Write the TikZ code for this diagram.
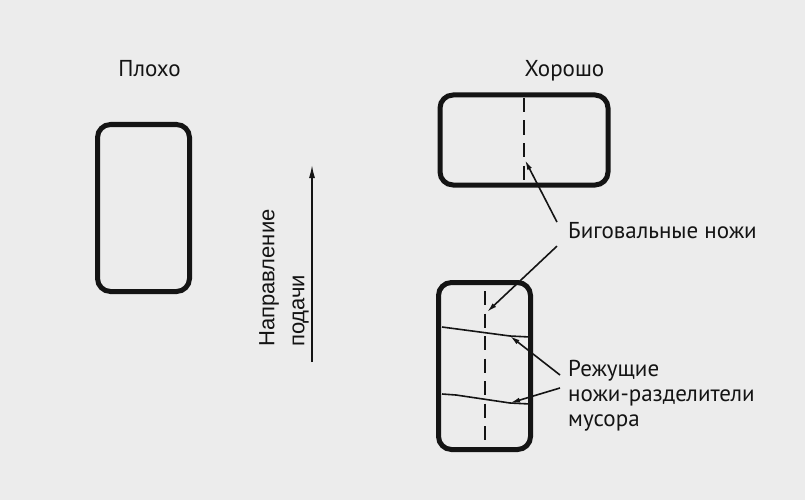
\documentclass[tikz,border=0pt]{standalone}
\usepackage{fontspec}
\setmainfont{PT Sans}
\newfontfamily\feedfont{Liberation Sans}
\usetikzlibrary{
    positioning,   % Relative positioning
    arrows.meta,   % Modern arrow tips
    calc           % Coordinate calculations
}
\definecolor{paper}{HTML}{ECECEC}
\definecolor{ink}{HTML}{141414}
\tikzset{
    card/.style={draw=ink, line width=5pt, rounded corners=13pt, inner sep=0pt},
    knife/.style={draw=ink, line width=2pt, dash pattern=on 14pt off 8.5pt},
    cutline/.style={draw=ink, line width=1.6pt},
    pointer/.style={draw=ink, line width=1.6pt, -{Latex[length=10pt,width=5pt]}},
    feed/.style={draw=ink, line width=1.4pt, -{Latex[length=13pt,width=6pt]}},
    caption/.style={font=\fontsize{23}{25}\selectfont, text=ink, inner sep=0pt}
}

\begin{document}
\begin{tikzpicture}[x=1pt,y=-1pt]
    \fill[paper] (0,0) rectangle (805,500);
    \useasboundingbox (0,0) rectangle (805,500);

    % blanks
    \node[card, minimum width=92pt, minimum height=167pt] (bad) at (143.5,208) {};
    \node[card, minimum width=168pt, minimum height=90pt] (goodtop) at (524,140) {};
    \node[card, minimum width=92pt, minimum height=167pt] (goodbot) at (484.5,366) {};

    % titles
    \node[caption, anchor=base] (badtitle) at (149.5,77) {Плохо};
    \node[caption, anchor=base] (goodtitle) at (564.5,77) {Хорошо};

    % creasing knives
    \draw[knife] ([yshift=-5.5pt]goodtop.north) -- ([yshift=5.5pt]goodtop.south);
    \draw[knife] ([xshift=0.5pt,yshift=-11pt]goodbot.north) -- ([xshift=0.5pt,yshift=12pt]goodbot.south);
    \coordinate (creasetop) at (525,160);
    \coordinate (creasebot) at (487,312);

    % trim cutters
    \coordinate (cuta) at (510,336);
    \coordinate (cutb) at (510,403);
    \draw[cutline] (442,327) -- (cuta) -- (530,337);
    \draw[cutline] (442,394) -- (456,395) -- (cutb) -- (530,404);

    % labels
    \node[caption, anchor=base west] (creaser) at (568,238) {Биговальные ножи};
    \node[caption, anchor=north west, align=left] (cutter) at (568,360)
        {Режущие\\ножи-разделители\\мусора};
    \draw[pointer] ($(creaser.west)+(-11,-8)$) -- (creasetop);
    \draw[pointer] ($(creaser.west)+(-11,16)$) -- (creasebot);
    \draw[pointer] ($(cutter.north west)+(-8,15)$) -- (cuta);
    \draw[pointer] ($(cutter.north west)+(-8,28)$) -- (cutb);

    % feed direction
    \coordinate (feedtail) at (312,362);
    \coordinate (feedhead) at (312,165);
    \draw[feed] (feedtail) -- (feedhead);
    \node[font=\feedfont\fontsize{22}{30}\selectfont, text=ink, inner sep=0pt,
        rotate=90, anchor=west, align=left] (feedlabel) at (284,347)
        {Направление\\подачи};
\end{tikzpicture}
\end{document}
